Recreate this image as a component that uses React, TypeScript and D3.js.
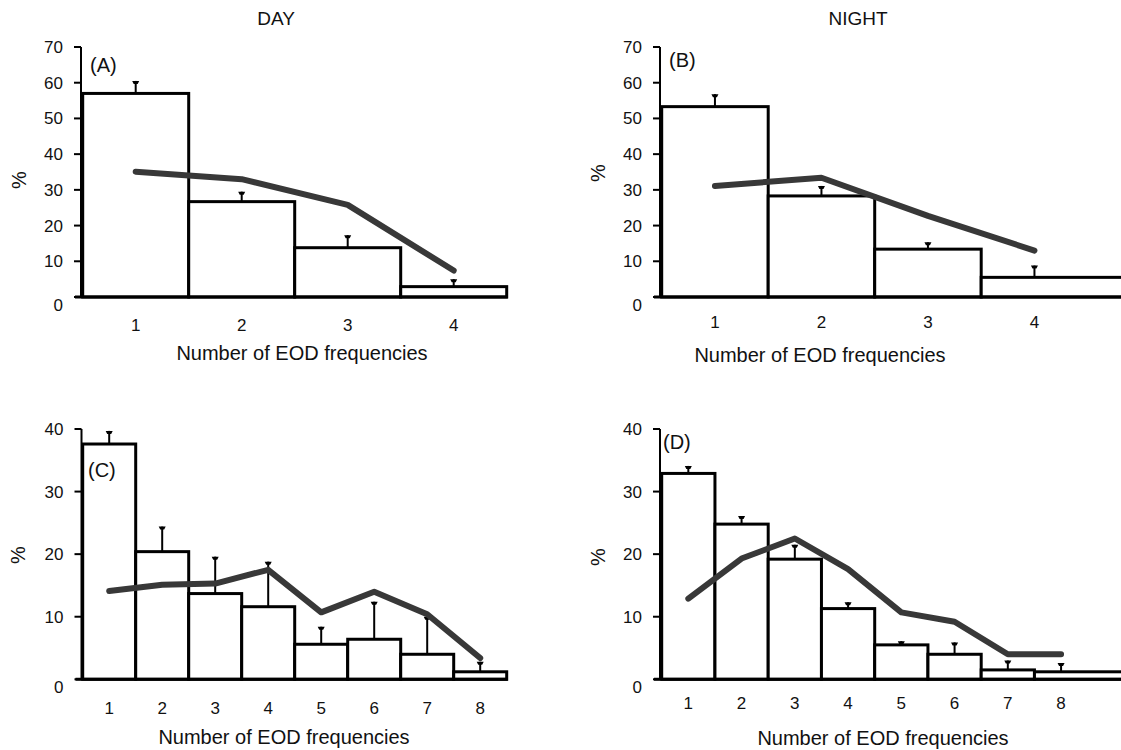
import React from "react";
import * as d3 from "d3";

const W = 1121;
const H = 750;

const catsFour = ["1", "2", "3", "4"];
const catsEight = ["1", "2", "3", "4", "5", "6", "7", "8"];

// (A) day, 4 categories
const barsA = [57.0, 26.7, 13.8, 2.9];
const errA = [3.5, 2.8, 3.5, 2.1];
const lineA = [35.1, 33.0, 25.8, 7.4];

// (B) night, 4 categories
const barsB = [53.3, 28.3, 13.4, 5.5];
const errB = [3.5, 2.8, 1.9, 3.3];
const lineB = [31.1, 33.4, 22.7, 13.0];

// (C) day, 8 categories
const barsC = [37.6, 20.4, 13.7, 11.6, 5.6, 6.4, 4.0, 1.2];
const errC = [2.1, 4.0, 5.9, 7.2, 2.8, 6.0, 6.0, 1.6];
const lineC = [14.1, 15.1, 15.3, 17.5, 10.7, 14.0, 10.4, 3.4];

// (D) night, 8 categories
const barsD = [32.9, 24.8, 19.2, 11.3, 5.5, 4.0, 1.5, 1.2];
const errD = [1.2, 1.3, 2.3, 1.0, 0.6, 1.9, 1.5, 1.4];
const lineD = [12.9, 19.3, 22.5, 17.6, 10.7, 9.2, 4.0, 4.0];

const ticksTop = [0, 10, 20, 30, 40, 50, 60, 70];
const ticksBottom = [0, 10, 20, 30, 40];

const FONT = "'Liberation Sans', Arial, Helvetica, sans-serif";

type PanelProps = {
  cats: string[];
  bars: number[];
  errs: number[];
  line: number[];
  yTicks: number[];
  axisX: number;
  x0: number;
  x1: number;
  y0: number;
  y1: number;
  label: string;
  labelPos: [number, number];
  pctPos: [number, number];
  tickY: number;
  titleX: number;
  titleY: number;
  bleed?: boolean;
};

const Panel = (p: PanelProps) => {
  const x = d3.scaleBand<string>().domain(p.cats).range([p.x0, p.x1]).padding(0);
  const yMax = p.yTicks[p.yTicks.length - 1];
  const y = d3.scaleLinear().domain([0, yMax]).range([p.y0, p.y1]);
  const bw = x.bandwidth();
  const cx = (c: string) => (x(c) as number) + bw / 2;

  const path = d3
    .line<number>()
    .x((_, i) => cx(p.cats[i]))
    .y((d) => y(d))(p.line) as string;

  // the right-hand panels run off the edge of the page
  const lastRight = p.bleed ? W + 10 : p.x1;

  return (
    <g fontFamily={FONT}>
      {/* y axis */}
      <line x1={p.axisX} x2={p.axisX} y1={y(yMax)} y2={y(0)} stroke="#000" strokeWidth={2} />
      {p.yTicks.map((t) => (
        <g key={t}>
          <line x1={p.axisX - 7} x2={p.axisX} y1={y(t)} y2={y(t)} stroke="#000" strokeWidth={2} />
          <text x={p.axisX - 18} y={y(t) + (t === 0 ? 14 : 6)} textAnchor="end" fontSize={17} fill="#111">
            {t}
          </text>
        </g>
      ))}
      {/* bars */}
      {p.bars.map((v, i) => {
        const c = p.cats[i];
        const left = x(c) as number;
        const isLast = i === p.bars.length - 1;
        const right = isLast ? lastRight : left + bw;
        return (
          <rect
            key={c}
            x={left}
            y={y(v)}
            width={right - left}
            height={y(0) - y(v)}
            fill="#fff"
            stroke="#000"
            strokeWidth={3}
          />
        );
      })}
      {/* x axis line */}
      <line x1={p.axisX - 6} x2={p.bleed ? W : p.x1 + 1} y1={y(0)} y2={y(0)} stroke="#000" strokeWidth={3} />
      {/* error bars */}
      {p.bars.map((v, i) => {
        const xc = cx(p.cats[i]);
        const top = y(v + p.errs[i]);
        return (
          <g key={"e" + i}>
            <line x1={xc} x2={xc} y1={y(v)} y2={top} stroke="#000" strokeWidth={2} />
            <path d={`M${xc - 3.5},${top} L${xc + 3.5},${top} L${xc + 2},${top + 3} L${xc - 2},${top + 3} Z`} fill="#000" />
          </g>
        );
      })}
      {/* trend line */}
      <path d={path} fill="none" stroke="#383838" strokeWidth={6} strokeLinecap="round" strokeLinejoin="round" />
      {/* x tick labels */}
      {p.cats.map((c) => (
        <text key={"t" + c} x={cx(c)} y={p.tickY} textAnchor="middle" fontSize={17} fill="#111">
          {c}
        </text>
      ))}
      <text x={p.titleX} y={p.titleY} textAnchor="middle" fontSize={20} fill="#111">
        Number of EOD frequencies
      </text>
      <text
        transform={`translate(${p.pctPos[0]},${p.pctPos[1]}) rotate(-90)`}
        textAnchor="middle"
        fontSize={20}
        fill="#111"
      >
        %
      </text>
      <text x={p.labelPos[0]} y={p.labelPos[1]} fontSize={20} fill="#111">
        {p.label}
      </text>
    </g>
  );
};

export default function App() {
  return (
    <svg
      width={W}
      height={H}
      style={{ position: "absolute", left: 0, top: 0, background: "#fff" }}
    >
      <rect width={W} height={H} fill="#fff" />
      <text x={276} y={25} textAnchor="middle" fontSize={19} fontFamily={FONT} fill="#111">
        DAY
      </text>
      <text x={858} y={25} textAnchor="middle" fontSize={19} fontFamily={FONT} fill="#111">
        NIGHT
      </text>
      <Panel
        cats={catsFour}
        bars={barsA}
        errs={errA}
        line={lineA}
        yTicks={ticksTop}
        axisX={81}
        x0={82.7}
        x1={506.7}
        y0={297}
        y1={47}
        label="(A)"
        labelPos={[90, 72]}
        pctPos={[26, 180]}
        tickY={331}
        titleX={302}
        titleY={360}
      />
      <Panel
        cats={catsFour}
        bars={barsB}
        errs={errB}
        line={lineB}
        yTicks={ticksTop}
        axisX={660}
        x0={661.7}
        x1={1087.7}
        y0={297}
        y1={47}
        label="(B)"
        labelPos={[669, 67]}
        pctPos={[605, 173]}
        tickY={328}
        titleX={820}
        titleY={362}
        bleed
      />
      <Panel
        cats={catsEight}
        bars={barsC}
        errs={errC}
        line={lineC}
        yTicks={ticksBottom}
        axisX={81.5}
        x0={82.7}
        x1={506.7}
        y0={679.3}
        y1={429}
        label="(C)"
        labelPos={[88, 477]}
        pctPos={[25, 555]}
        tickY={714}
        titleX={284}
        titleY={744}
      />
      <Panel
        cats={catsEight}
        bars={barsD}
        errs={errD}
        line={lineD}
        yTicks={ticksBottom}
        axisX={660}
        x0={661.7}
        x1={1087.7}
        y0={679.3}
        y1={429}
        label="(D)"
        labelPos={[663, 449]}
        pctPos={[605, 557]}
        tickY={709}
        titleX={883}
        titleY={745}
        bleed
      />
    </svg>
  );
}
